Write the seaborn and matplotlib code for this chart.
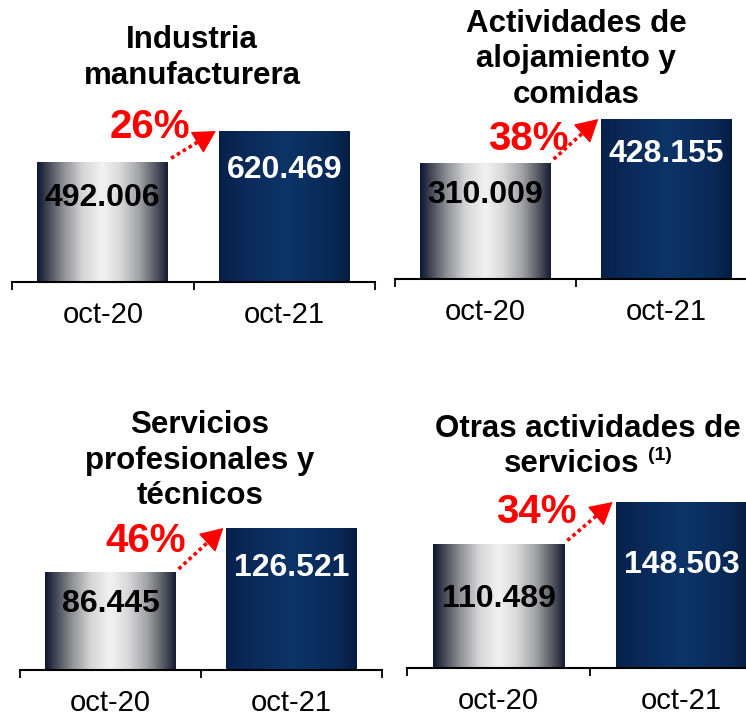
import matplotlib
matplotlib.use("Agg")
import matplotlib.pyplot as plt
import numpy as np
import pandas as pd
import seaborn as sns
from matplotlib.colors import LinearSegmentedColormap

# --- data -------------------------------------------------------------
sectors = [
    ["Industria", "manufacturera"],
    ["Actividades de", "alojamiento y", "comidas"],
    ["Servicios", "profesionales y", "técnicos"],
    ["Otras actividades de", "servicios"],
]
footnotes = ["", "", "", "(1)"]
periods = ["oct-20", "oct-21"]
oct20 = [492006, 310009, 86445, 110489]
oct21 = [620469, 428155, 126521, 148503]

# --- layout (pixels) --------------------------------------------------
W, H = 746, 717
# left, right, baseline, top of taller bar
frames = [(12, 375, 282, 131), (395, 757, 279, 119),
          (20, 382, 670, 528), (407, 773, 668, 502)]
# title centre x, baseline of first line
title_pos = [(192, 48), (576, 32), (200, 433), (588, 437)]
title_step = 35.5
# distance from bar top to value-label centre
label_drop = [(33, 36), (28.5, 32), (28, 36.5), (52, 60)]
# growth label centre relative to (right edge of first bar, top of second bar)
pct_offset = [(-18, -7), (-22, 17), (-30, 9), (-28, 6.5)]
bar_width = 0.72

sns.set_style("white")
plt.rcParams["font.family"] = ["Liberation Sans", "DejaVu Sans"]
plt.rcParams["text.color"] = "black"

grey_cmap = LinearSegmentedColormap.from_list(
    "grey_cyl",
    [(0.0, "#0c1733"), (0.07, "#3b3f50"), (0.2, "#8d8e93"), (0.35, "#d6d6d7"),
     (0.5, "#f2f2f2"), (0.63, "#dadadb"), (0.78, "#a2a3a6"), (0.9, "#5a5c66"),
     (1.0, "#161c33")])
navy_cmap = LinearSegmentedColormap.from_list(
    "navy_cyl",
    [(0.0, "#06204a"), (0.15, "#0a2856"), (0.5, "#0c3468"), (0.85, "#092a58"),
     (1.0, "#061d42")])
cmaps = [grey_cmap, navy_cmap]
label_colors = ["black", "white"]
gradient = np.linspace(0, 1, 256).reshape(1, -1)

fig = plt.figure(figsize=(W / 100, H / 100), dpi=100)
fig.patch.set_facecolor("white")


def fx(x):
    return x / W


def fy(y):
    return 1 - y / H


for i in range(4):
    left, right, base, top = frames[i]
    ax = fig.add_axes([fx(left), fy(base), (right - left) / W, (base - top) / H])
    vals = [oct20[i], oct21[i]]
    df = pd.DataFrame({"periodo": periods, "valor": vals})
    sns.barplot(data=df, x="periodo", y="valor", ax=ax, width=bar_width,
                color="white", saturation=1, errorbar=None)

    ux = (right - left) / 2.0          # px per category unit
    uy = (base - top) / max(vals)      # px per value unit

    # cylinder-like shading on each bar
    for j, patch in enumerate(ax.patches):
        x0, w, h = patch.get_x(), patch.get_width(), patch.get_height()
        ax.imshow(gradient, cmap=cmaps[j], extent=(x0, x0 + w, 0, h),
                  aspect="auto", interpolation="bicubic", zorder=2)
        patch.set_visible(False)
        txt = f"{vals[j]:,}".replace(",", ".")
        drop_px = label_drop[i][j] + 11
        ax.annotate(txt, xy=(x0 + w / 2, h), xytext=(0, -drop_px * 0.72),
                    textcoords="offset points", ha="center", va="baseline",
                    fontsize=23, fontweight="bold", color=label_colors[j],
                    zorder=3)

    ax.set_xlim(-0.5, 1.5)
    ax.set_ylim(0, max(vals))
    sns.despine(ax=ax, left=True)
    ax.spines["bottom"].set_linewidth(1.5)
    ax.spines["bottom"].set_color("black")
    ax.set_yticks([])
    ax.set_xlabel("")
    ax.set_ylabel("")
    ax.set_xticks([0, 1])
    ax.set_xticklabels(periods)
    ax.set_xticks([-0.5, 0.5, 1.5], minor=True)
    ax.tick_params(axis="x", which="major", bottom=True, length=0, pad=14,
                   labelsize=21, labelcolor="black")
    ax.tick_params(axis="x", which="minor", bottom=True, length=6, width=1.3,
                   direction="out", color="black")

    # growth arrow: dotted shaft plus solid head
    b1_right = bar_width / 2
    b2_left = 1 - bar_width / 2
    sx, sy = b1_right + 3 / ux, vals[0] + 4 / uy
    ex, ey = b2_left - 3 / ux, vals[1]
    # shaft direction in pixel space to stop the dots before the head
    dpx, dpy = (ex - sx) * ux, (ey - sy) * uy
    length = np.hypot(dpx, dpy)
    head = 14.0
    mx = ex - dpx / length * head / ux
    my = ey - dpy / length * head / uy
    ax.plot([sx, mx], [sy, my], color="red", lw=2.6, linestyle=(0, (1.0, 0.9)),
            dash_capstyle="butt", solid_capstyle="butt", zorder=4, clip_on=False)
    ax.annotate("", xy=(ex, ey), xytext=(mx, my), annotation_clip=False,
                arrowprops=dict(arrowstyle="-|>,head_length=0.9,head_width=0.5",
                                color="red", lw=1, shrinkA=0, shrinkB=0,
                                mutation_scale=16),
                zorder=4)
    growth = round((vals[1] / vals[0] - 1) * 100)
    dx, dy = pct_offset[i]
    ax.text(b1_right + dx / ux, vals[1] - (dy + 14.5) / uy, f"{growth}%",
            ha="center", va="baseline", fontsize=29, fontweight="bold",
            color="#ff0000", zorder=4, clip_on=False)

    # title lines
    cx, y0 = title_pos[i]
    lines = sectors[i]
    for k, line in enumerate(lines):
        y = y0 + k * title_step
        if k == len(lines) - 1 and footnotes[i]:
            t1 = fig.text(0, fy(y), line, ha="left", va="baseline",
                          fontsize=22.5, fontweight="bold", color="black")
            t2 = fig.text(0, fy(y - 12), footnotes[i], ha="left", va="baseline",
                          fontsize=14, fontweight="bold", color="black")
            r = fig.canvas.get_renderer()
            w1 = t1.get_window_extent(r).width
            w2 = t2.get_window_extent(r).width
            gap = 8
            x_start = cx - (w1 + gap + w2) / 2
            t1.set_x(fx(x_start))
            t2.set_x(fx(x_start + w1 + gap))
        else:
            fig.text(fx(cx), fy(y), line, ha="center", va="baseline",
                     fontsize=22.5, fontweight="bold", color="black")

fig.savefig("out.png", dpi=100, facecolor="white")
